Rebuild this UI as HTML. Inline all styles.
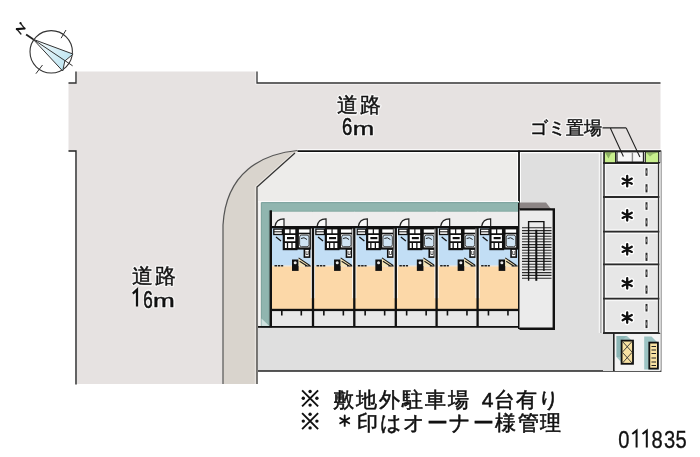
<!DOCTYPE html>
<html><head><meta charset="utf-8">
<style>
html,body{margin:0;padding:0;background:#fff;width:700px;height:457px;overflow:hidden}
svg{display:block;will-change:transform}
text{font-family:"Liberation Sans",sans-serif}
</style></head><body>
<svg width="700" height="457" viewBox="0 0 700 457">
<defs>
 <g id="unit">
  <rect x="-0.2" y="1.2" width="41.8" height="14.8" fill="#eeeded"/>
  <rect x="-0.2" y="16" width="41.8" height="39" fill="#c2def5"/>
  <rect x="0" y="55" width="41.4" height="1" fill="#e9e4da"/>
  <rect x="0" y="56" width="41.4" height="43" fill="#fcd8a8"/>
  <rect x="-0.2" y="99" width="41.8" height="17" fill="#e8e8e8"/>
  <path d="M4 15.8 Q5 8.6 13 8.4 V15.8 Z" fill="#f8f8f8" stroke="none"/>
  <path d="M4 15.8 Q5 8.6 13 8.4 V15.8" fill="none" stroke="#222" stroke-width="1.2"/>
  <rect x="0" y="15.5" width="41.4" height="2.3" fill="#111"/>
  <rect x="0" y="99.1" width="41.4" height="0.8" fill="#fff"/>
  <rect x="0" y="98.3" width="41.4" height="2.3" fill="#111"/>
  <!-- kitchen -->
  <rect x="2.8" y="18.6" width="8.6" height="5.4" fill="#fff" stroke="#111" stroke-width="1.3"/>
  <path d="M2.8 21.3 H11.4" stroke="#111" stroke-width="1"/>
  <path d="M5 26.5 L10 30.4" stroke="#111" stroke-width="1.3"/>
  <!-- core block -->
  <rect x="12.8" y="17.8" width="12.6" height="20.8" fill="#fff" stroke="#111" stroke-width="2.2"/>
  <path d="M12.8 23.6 H25.4 M12.8 31.6 H25.4" stroke="#111" stroke-width="1.8"/>
  <path d="M19 18 V23.6" stroke="#111" stroke-width="1.2"/>
  <path d="M16 27.6 H23" stroke="#111" stroke-width="2.2"/>
  <path d="M16.5 31.6 V38.6 M21 31.6 V38.6" stroke="#111" stroke-width="1.3"/>
  <!-- bath block -->
  <rect x="26.8" y="17.8" width="12.8" height="20.2" fill="#fff" stroke="#111" stroke-width="2.2"/>
  <path d="M26.8 23 H39.6" stroke="#111" stroke-width="1.6"/>
  <rect x="28.6" y="24.6" width="9.4" height="11.6" rx="2" fill="#cfe3f3" stroke="#333" stroke-width="0.9"/>
  <path d="M30 28 Q33 26 36 29" fill="none" stroke="#222" stroke-width="1"/>
  <rect x="33.4" y="38.6" width="5.2" height="8" fill="#fff" stroke="#111" stroke-width="1.6"/>
  <path d="M35 40.5 V44 H37.2 V40.5" fill="none" stroke="#333" stroke-width="0.8"/>
  <!-- fridge -->
  <rect x="21" y="49" width="6.6" height="11.4" fill="#111"/>
  <circle cx="24.2" cy="52.2" r="1.5" fill="#e8e8e8"/>
  <path d="M27.6 47.2 L38.8 55 L27.6 55.6 Z" fill="#f6e4b4"/>
  <path d="M27.6 47.4 L38.8 55 M28.6 50.8 L36.5 55.8 M34 55.5 H40" stroke="#1a1a1a" stroke-width="1.1"/>
  <path d="M3.5 55.3 H12.2" stroke="#222" stroke-width="1.6" stroke-dasharray="2.5 0.8"/>
  <!-- balcony ticks -->
  <rect x="10" y="100" width="1.6" height="5" fill="#111"/>
  <rect x="29.5" y="100" width="1.6" height="5" fill="#111"/>
 </g>
</defs>

<!-- road gray -->
<path d="M77 71.5 H257 V83 H660.5 V150.5 H297.5 C262 154, 226 172, 223 225 V384 H77 V151 H68.5 V83 H77 Z" fill="#e6e2e1"/>
<!-- road boundary lines -->
<path d="M76 71.5 V83 H68.5" fill="none" stroke="#333" stroke-width="1.4"/>
<path d="M257 71.5 V83 H660.5" fill="none" stroke="#fff" stroke-width="3" opacity="0.8"/><path d="M257 71.5 V83 H660.5" fill="none" stroke="#333" stroke-width="1.3"/>
<path d="M68.5 151 H76 V384.5" fill="none" stroke="#222" stroke-width="1.4"/>

<!-- site light area -->
<path d="M297.5 150.5 H660.5 V371 H258 V384 H223 V225 C226 172, 262 154, 297.5 150.5 Z" fill="#edecea"/>
<!-- tan band -->
<path d="M297.5 150.5 C262 154, 226 172, 223 225 V384 H257.5 V221 L257 187 L295 153 Z" fill="#d9d4cd"/>
<path d="M297.5 150.5 C262 154, 226 172, 223 225 V384" fill="none" stroke="#555" stroke-width="1.2"/>
<path d="M293 153.2 L255.3 186.6 V384" fill="none" stroke="#ebe8e4" stroke-width="1"/><path d="M295 153 L257 187 V384" fill="none" stroke="#333" stroke-width="1.2"/>
<!-- darker gray (right strip + below building) -->
<path d="M519 150.5 H603 V371 H258 V327 H519 Z" fill="#dfdfdf"/>
<!-- site top line -->
<path d="M297.5 151.2 H661" fill="none" stroke="#fff" stroke-width="4"/><path d="M297.5 151.2 H661" fill="none" stroke="#111" stroke-width="1.8"/>
<path d="M661 150.5 V372" fill="none" stroke="#777" stroke-width="1.2"/>
<path d="M258 371 H661" fill="none" stroke="#222" stroke-width="1.6"/>
<path d="M519 152 V203" fill="none" stroke="#fff" stroke-width="4"/><path d="M519 150.5 V329" fill="none" stroke="#111" stroke-width="1.8"/>

<!-- building teal band -->
<path d="M258 201.8 H519" stroke="#fafafa" stroke-width="1.4"/><path d="M259.4 202 V327" stroke="#f6f6f6" stroke-width="1.8"/>
<path d="M261.4 202.6 H519 V211.4 H269.3 V327 H261.4 Z" fill="#90b5af" stroke="#729b95" stroke-width="0.9"/>
<path d="M261.5 318.5 L269.3 326 H261.5 Z" fill="#cfe2df"/>
<!-- units -->
<g transform="translate(271,210.5)"><use href="#unit"/></g>
<g transform="translate(313.05,210.5)"><use href="#unit"/></g>
<g transform="translate(354.35,210.5)"><use href="#unit"/></g>
<g transform="translate(395.85,210.5)"><use href="#unit"/></g>
<g transform="translate(436.65,210.5)"><use href="#unit"/></g>
<g transform="translate(477.65,210.5)"><use href="#unit"/></g>
<!-- walls -->
<g fill="#fff" opacity="0.85">
 <rect x="310.85" y="228.6" width="4.2" height="69.6"/>
 <rect x="352.15" y="228.6" width="4.2" height="69.6"/>
 <rect x="393.65" y="228.6" width="4.2" height="69.6"/>
 <rect x="434.45" y="228.6" width="4.2" height="69.6"/>
 <rect x="475.45" y="228.6" width="4.2" height="69.6"/>
</g>
<g fill="#111">
 <rect x="269.6" y="210.3" width="2.4" height="117"/>
 <rect x="311.85" y="226" width="2.3" height="101"/>
 <rect x="353.15" y="226" width="2.3" height="101"/>
 <rect x="394.65" y="226" width="2.3" height="101"/>
 <rect x="435.45" y="226" width="2.3" height="101"/>
 <rect x="476.45" y="226" width="2.3" height="101"/>
 <rect x="518" y="203" width="2.2" height="126"/>
 <rect x="258" y="326" width="261" height="1.8"/>
</g>
<!-- staircase -->
<rect x="519.5" y="209" width="34" height="119" fill="#ebebeb"/>
<path d="M519.5 202.5 H546 L551 209 H519.5 Z" fill="#8c8585"/>
<g stroke="#2a2a2a" stroke-width="1.1"><path d="M522 227.8 H551.5 M522 230.6 H551.5 M522 233.4 H551.5 M522 236.2 H551.5 M522 239.0 H551.5 M522 241.8 H551.5 M522 244.6 H551.5 M522 247.4 H551.5 M522 250.2 H551.5 M522 253.0 H551.5 M522 255.8 H551.5 M522 258.6 H551.5 M522 261.4 H551.5 M522 264.2 H551.5 M522 267.0 H551.5 M522 269.8 H551.5 M522 272.6 H551.5 M522 275.4 H551.5 M522 278.2 H551.5"/></g>
<path d="M528.6 280.7 V221.6 H543.9 V271" fill="none" stroke="#111" stroke-width="1.4"/>
<rect x="535.3" y="229.8" width="2" height="51" fill="#111"/>
<path d="M519.5 209.4 H555 M553.8 209 V329.5 M519.5 328.8 H555" fill="none" stroke="#111" stroke-width="2.4"/>
<!-- parking -->
<g>
 <rect x="603" y="163" width="57" height="170" fill="#e7e7e7"/>
 <path d="M599.3 152 V333 M602.3 152 V333 M605.6 163 V332" stroke="#fbfbfb" stroke-width="1" fill="none"/>
 <path d="M600.9 152 V333" stroke="#9a9a9a" stroke-width="1" fill="none"/>
 <path d="M604 150.5 V333.5" stroke="#333" stroke-width="1.5" fill="none"/>
 <path d="M605 164.6 H658 M605 199 H658 M605 233.5 H658 M605 266.2 H658 M605 300.6 H658 M605 195.2 H658 M605 229.8 H658 M605 262.5 H658 M605 297 H658 M605 331.2 H658" stroke="#fafafa" stroke-width="1" fill="none"/>
 <path d="M603 163 H660 M603 197 H660 M603 231.6 H660 M603 264.3 H660 M603 298.7 H660 M603 333 H660" stroke="#2a2a2a" stroke-width="1.8" fill="none"/>
 <path d="M658.6 163 V333" stroke="#333" stroke-width="1.4" fill="none"/>
 <path d="M660 163 V333" stroke="#f4f4f4" stroke-width="1.2" fill="none"/>
</g>
<!-- bottom equipment row -->
<rect x="603" y="334" width="11" height="37" fill="#dfdfdf"/>
<rect x="614.5" y="334" width="46" height="37" fill="#f3f3f3"/>
<path d="M613.8 333 V371" stroke="#222" stroke-width="1.6"/>
<!-- gomi -->
<rect x="604.3" y="151.8" width="11.3" height="11" fill="#c8ef8e" stroke="#1a1a1a" stroke-width="1.1"/>
<path d="M605 152.4 L608.5 158.5 L611 153.5 L614.8 152.4 Z" fill="#3d5a2a" opacity="0.45"/>
<rect x="645.3" y="151.8" width="13.4" height="11" fill="#c8ef8e" stroke="#1a1a1a" stroke-width="1.1"/>
<path d="M646 152.4 L650 156.5 L653 154 L658 152.4 Z" fill="#3d5a2a" opacity="0.35"/>
<rect x="617" y="151.8" width="26.4" height="10.6" fill="#f7f7f7" stroke="#1a1a1a" stroke-width="1.1"/>
<path d="M632.4 152.4 V162" stroke="#888" stroke-width="1.4"/>
<path d="M617 162.3 H643.4" stroke="#111" stroke-width="1.4"/>

<!-- compass -->
<g fill="none" stroke="#333">
 <circle cx="51.2" cy="51.8" r="21.2" stroke-width="1.1"/>
 <path d="M61.1 38.2 L66 30 M35.9 73.7 L42.5 65" stroke-width="1"/>
 <linearGradient id="ndl" gradientUnits="userSpaceOnUse" x1="33" y1="39" x2="68" y2="63"><stop offset="0" stop-color="#ffffff"/><stop offset="0.45" stop-color="#dff2f8"/><stop offset="1" stop-color="#bfe6f2"/></linearGradient>
 <path d="M33.2 39.3 L73.1 54.1 L64.8 61 L62.7 71 Z" fill="url(#ndl)" stroke-width="1"/>
 <path d="M33.2 39.3 L72.6 65.8" stroke-width="1"/>
 <path d="M26.1 34.4 L33.2 39.3" stroke-width="1.8" stroke="#222"/>
 <path d="M20.6 23.4 L24.5 28.4 M16.9 29.1 L20.9 34" stroke-width="1.4" stroke="#222" stroke-linecap="round"/>
 <path d="M24.6 28.5 L16.8 29.1" stroke-width="2.1" stroke="#111" stroke-linecap="round"/>
 <circle cx="20.5" cy="23.2" r="1.1" fill="#111" stroke="none"/>
</g>

<!-- road labels -->
<g font-family="Liberation Sans" fill="#f8f8f8" stroke="#f8f8f8" stroke-width="3.2" stroke-linejoin="round" opacity="0.9">
 <text x="337.4" y="111.6" font-size="21" letter-spacing="2">道路</text>
 <text transform="translate(342.1,135.4) scale(0.77,0.98)" font-size="24">6</text>
 <text transform="translate(352.8,135.2) scale(1.07,0.77)" font-size="24">m</text>
 <text x="132.4" y="283.1" font-size="21" letter-spacing="2">道路</text>
 <text transform="translate(143.3,307.5) scale(0.71,1.02)" font-size="24">6</text>
 <text transform="translate(152.9,307.3) scale(1.09,0.8)" font-size="24">m</text>
 <text x="530" y="134" font-size="18" letter-spacing="0.1">ゴミ置場</text>
 <path d="M132.8 293.6 L137 289.6 V306.5" fill="none" stroke-width="5"/>
</g>
<g font-family="Liberation Sans" fill="#111" stroke="#111" stroke-width="0.6" stroke-linejoin="round">
 <text x="337.4" y="111.6" font-size="21" letter-spacing="2" stroke-width="0.45">道路</text>
 <text transform="translate(342.1,135.4) scale(0.77,0.98)" font-size="24" stroke-width="0.6">6</text>
 <text transform="translate(352.8,135.2) scale(1.07,0.77)" font-size="24" stroke-width="0.55">m</text>
 <text x="132.4" y="283.1" font-size="21" letter-spacing="2" stroke-width="0.45">道路</text>
 <text transform="translate(143.3,307.5) scale(0.71,1.02)" font-size="24" stroke-width="0.6">6</text>
 <text transform="translate(152.9,307.3) scale(1.09,0.8)" font-size="24" stroke-width="0.55">m</text>
 <text x="530" y="134" font-size="18" stroke-width="0.45" letter-spacing="0.1">ゴミ置場</text>
 <path d="M132.8 293.6 L137 289.6 V306.5" fill="none" stroke-width="2.3" stroke-linejoin="miter"/>
</g>
<!-- gomi leader -->
<path d="M602.5 127.9 H626.2 M610.3 127.9 L623.4 156.6 M626.2 127.9 L639.9 157.1" fill="none" stroke="#222" stroke-width="1.1"/>

<!-- parking asterisks & dashes -->
<defs>
 <g id="ast"><g stroke="#fff" stroke-width="5" stroke-linecap="round"><path d="M0 -5.2 V5.2 M-4.6 -2.6 L4.6 2.6 M-4.6 2.6 L4.6 -2.6"/></g>
 <g stroke="#111" stroke-width="2.3" stroke-linecap="round"><path d="M0 -5.2 V5.2 M-4.6 -2.6 L4.6 2.6 M-4.6 2.6 L4.6 -2.6"/></g></g>
 <g id="dsh"><rect x="-2.2" y="4.6" width="4.4" height="9" fill="#fbfbfb"/><rect x="-1" y="5.2" width="2" height="7.6" fill="#2a2a2a"/><rect x="-0.4" y="7.4" width="0.8" height="3" fill="#999"/><rect x="-2.2" y="20.6" width="4.4" height="9.4" fill="#fbfbfb"/><rect x="-1" y="21.2" width="2" height="8.2" fill="#2a2a2a"/><rect x="-0.4" y="23.6" width="0.8" height="3" fill="#999"/></g>
</defs>
<use href="#ast" x="627.2" y="181.2"/>
<use href="#ast" x="627.2" y="215.3"/>
<use href="#ast" x="627.2" y="249.3"/>
<use href="#ast" x="627.2" y="283.4"/>
<use href="#ast" x="627.2" y="317.6"/>
<use href="#dsh" x="646.5" y="163"/>
<use href="#dsh" x="646.5" y="197"/>
<use href="#dsh" x="646.5" y="231.5"/>
<use href="#dsh" x="646.5" y="264.3"/>
<use href="#dsh" x="646.5" y="298.7"/>

<!-- equipment icons -->
<path d="M616.5 336 H627 L634 342.5 V362 H621 L616.5 357 Z" fill="#a2c6c6"/>
<path d="M616.5 336 H627 L621 341 V357 L616.5 357 Z" fill="#7faeae" opacity="0.6"/>
<rect x="621.6" y="340.6" width="11.4" height="23.2" fill="#f8e2a2" stroke="#111" stroke-width="1.8"/>
<path d="M622.5 341.5 L632 352 M632 341.5 L622.5 352 M622.5 352.4 L632 363 M632 352.4 L622.5 363" stroke="#333" stroke-width="0.9"/>
<path d="M644.2 336.5 H651.5 L658.5 343.5 V369.5 H644.2 Z" fill="#9cc3c3"/>
<rect x="649.3" y="342.6" width="8.6" height="26" fill="#f8e2a2" stroke="#111" stroke-width="1.8"/>
<path d="M651.5 346.5 H656 M651.5 350 H656 M651.5 353.5 H656 M651.5 358 H656 M651.5 362 H656 M651.5 365.5 H656" stroke="#222" stroke-width="1.1"/>

<!-- bottom text -->
<defs>
 <g id="kome" stroke="#111" fill="#111"><path d="M1.3 1.3 L17.3 17.3 M17.3 1.3 L1.3 17.3" stroke-width="1.9"/><circle cx="9.3" cy="2.5" r="1.7" stroke="none"/><circle cx="9.3" cy="16.1" r="1.7" stroke="none"/><circle cx="2.5" cy="9.3" r="1.7" stroke="none"/><circle cx="16.1" cy="9.3" r="1.7" stroke="none"/></g>
</defs>
<use href="#kome" x="300.8" y="389"/>
<use href="#kome" x="300.8" y="411.8"/>
<g font-family="Liberation Sans" fill="#111" stroke="#111" stroke-width="0.55">
 <text x="333.4" y="406.7" font-size="21" letter-spacing="2">敷地外駐車場</text>
 <text x="481.7" y="406.7" font-size="21" letter-spacing="1">4台有り</text>
 <text x="357.4" y="429.5" font-size="21" letter-spacing="1.45">印はオーナー様管理</text>
 </g>
<g font-family="Liberation Sans" fill="#111" stroke="#111" stroke-width="0.35" font-size="24">
 <text transform="translate(618.3,447.6) scale(0.84,1)">0</text>
 <text transform="translate(651.6,447.6) scale(0.84,1)">8</text>
 <text transform="translate(663.9,447.6) scale(0.84,1)">3</text>
 <text transform="translate(675.6,447.6) scale(0.84,1)">5</text>
</g>
<path d="M632.3 434 L636.6 430.6 V447.4 M642.5 434 L646.8 430.6 V447.4" fill="none" stroke="#111" stroke-width="2"/>
<g>
</g>
<g stroke="#111" stroke-width="1.9" stroke-linecap="round" transform="translate(344.7,420.7)"><path d="M0 -5.2 V5.2 M-4.5 -2.6 L4.5 2.6 M-4.5 2.6 L4.5 -2.6"/></g>
</svg>
</body></html>
